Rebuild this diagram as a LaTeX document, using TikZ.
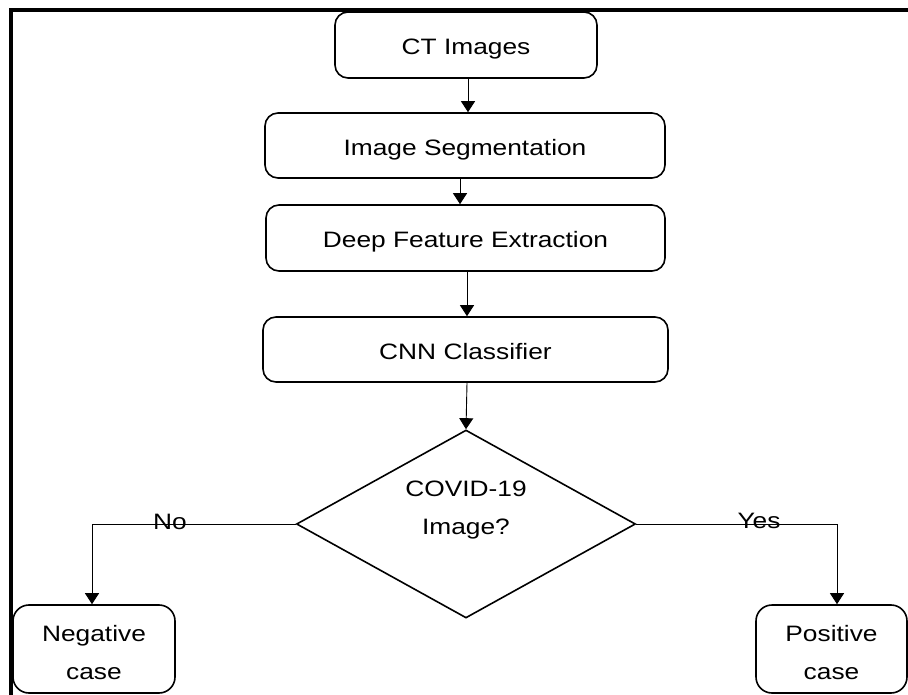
\documentclass[tikz,border=0pt]{standalone}
\usepackage{fontspec}
\setmainfont{Liberation Sans}[FakeStretch=1.18]
\usetikzlibrary{shapes.geometric,arrows.meta,calc}
\begin{document}
\begin{tikzpicture}[x=1pt,y=-1pt,
  every node/.style={font=\fontsize{22.3}{38}\selectfont},
  box/.style={draw,line width=1.6pt,rounded corners=13pt,inner sep=0pt,text height=20pt,text depth=0pt},
  endbox/.style={draw,line width=1.6pt,rounded corners=16pt,inner sep=0pt,align=center},
  dia/.style={draw,diamond,line width=1.6pt,inner sep=0pt},
  conn/.style={line width=0.9pt,-{Triangle[width=14pt,length=11pt]}},
  lbl/.style={inner sep=0pt,text height=16pt,text depth=0pt}]
\useasboundingbox (0,0) rectangle (908,695);
\draw[line width=4pt] (908,10) -- (11,10) -- (11,697);
\node[box,minimum width=262pt,minimum height=66pt] (ct) at (466,45) {CT Images};
\node[box,minimum width=400pt,minimum height=65pt] (seg) at (465,145.5) {Image Segmentation};
\node[box,minimum width=399pt,minimum height=66pt] (deep) at (465.5,238) {Deep Feature Extraction};
\node[box,minimum width=405pt,minimum height=65pt] (cnn) at (465.5,349.5) {CNN Classifier};
\node[dia,minimum width=339pt,minimum height=188pt] (dq) at (466,524) {};
\node[align=center,inner sep=0pt] (dqt) at (466,510) {COVID-19\\Image?};
\node[endbox,minimum width=162pt,minimum height=88pt] (neg) at (94,649) {\rule{0pt}{24pt}Negative\\case};
\node[endbox,minimum width=151pt,minimum height=88pt] (pos) at (831.5,649) {\rule{0pt}{24pt}Positive\\case};
\draw[conn] ([xshift=2pt]ct.south) -- ([xshift=2pt]ct.south |- seg.north);
\draw[conn] ([xshift=-5pt]seg.south) -- ([xshift=-5pt]seg.south |- deep.north);
\draw[conn] ([xshift=1.5pt]deep.south) -- ([xshift=1.5pt]deep.south |- cnn.north);
\draw[conn] ([xshift=1.5pt]cnn.south) -- (dq.north);
\draw[conn] (dq.west) -| ([xshift=-2pt]neg.north);
\draw[conn] (dq.east) -| ([xshift=5.5pt]pos.north);
\node[lbl] (no) at (170,521) {No};
\node[lbl] (yes) at (759,520) {Yes};
\end{tikzpicture}
\end{document}
